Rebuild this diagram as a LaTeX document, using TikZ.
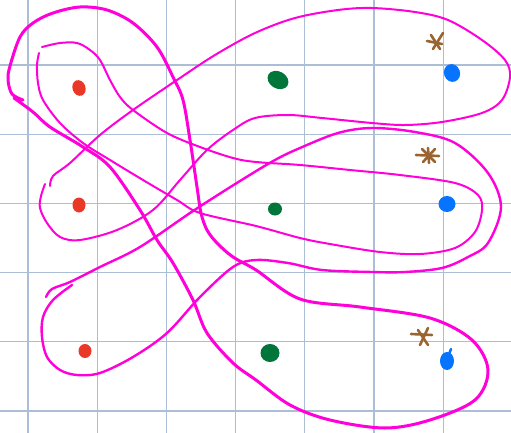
\documentclass[tikz,border=0pt]{standalone}
\begin{document}
\begin{tikzpicture}[x=1pt,y=-1pt,line cap=round,line join=round,
  gridline/.style={draw=gridc,line width=1.2pt},
  loopthick/.style={draw=mag,line width=3pt},
  loopmid/.style={draw=mag,line width=2.4pt},
  loopthin/.style={draw=mag,line width=2pt},
  reddot/.style={fill=redc},
  greendot/.style={fill=greenc},
  bluedot/.style={fill=bluec},
  starstroke/.style={draw=brownc,line width=2.6pt}]
\definecolor{gridc}{RGB}{172,190,214}
\definecolor{mag}{RGB}{255,0,218}
\definecolor{redc}{RGB}{234,56,40}
\definecolor{greenc}{RGB}{0,118,58}
\definecolor{bluec}{RGB}{6,116,255}
\definecolor{brownc}{RGB}{154,100,48}
\useasboundingbox (0,0) rectangle (511,433);
\fill[white] (0,0) rectangle (511,433);
% grid
\foreach \gx in {28,97.2,166.4,235.6,304.8,374,443.2}
  \draw[gridline] (\gx,0) -- (\gx,433);
\foreach \gy in {65,134.2,203.4,272.6,341.8,411}
  \draw[gridline] (0,\gy) -- (511,\gy);
% dots
\fill[reddot,rotate around={20:(79,88)}] (79,88) ellipse (6.5 and 8);
\fill[reddot] (79,205) ellipse (6.5 and 7.5);
\fill[reddot] (85,351) ellipse (6.5 and 7);
\fill[greendot,rotate around={-30:(278,80)}] (278,80) ellipse (11 and 8.5);
\fill[greendot] (275,209) ellipse (7 and 6.5);
\fill[greendot] (270,353) ellipse (9.5 and 9);
\fill[bluedot,rotate around={20:(452,73)}] (452,73) ellipse (8 and 9);
\fill[bluedot] (447,204) ellipse (8.5 and 8);
\fill[bluedot] (447,361) ellipse (7 and 9);
\draw[draw=bluec,line width=2.5pt] (449,354) -- (451,349);
% stars
\draw[starstroke] (427,41) -- (442,44);
\draw[starstroke] (443,33) -- (433,49);
\draw[starstroke] (431,35) -- (440,49);
\draw[starstroke] (416,155) -- (439,156);
\draw[starstroke] (428,148) -- (429,163);
\draw[starstroke] (422,149) -- (435,162);
\draw[starstroke] (435,149) -- (423,162);
\draw[starstroke] (411,334) -- (432,335);
\draw[starstroke] (428,328) -- (420,345);
\draw[starstroke] (418,330) -- (428,345);
% loop A (thick)
\draw[loopthick] plot[smooth,tension=0.55] coordinates {
 (23,100) (12,94) (8,80) (10,66) (20,37) (33,23) (53,13) (80,7) (107,10) (133,23)
 (157,47) (173,77) (183,100) (190,140) (197,187) (201,213) (207,230) (217,243)
 (233,257) (256,270) (300,299) (360,307) (430,318) (472,340) (488,370)
 (475,400) (430,420) (385,428) (330,420) (290,405) (256,380) (233,363)
 (207,333) (193,300) (173,263) (157,240) (140,210) (110,167) (83,147)
 (50,127) (33,112) (14,98)};
% loop B (thin)
\draw[loopthin] plot[smooth,tension=0.55] coordinates {
 (42,47) (60,43) (77,43) (90,50) (100,60) (110,80) (120,97) (133,110)
 (167,133) (200,147) (233,158) (256,162) (300,165) (350,170) (400,175)
 (455,183) (478,195) (482,210) (475,232) (455,248) (420,254) (380,252)
 (330,244) (300,238) (256,226) (200,213) (177,200) (143,180) (110,160)
 (83,143) (60,123) (43,100) (38,83) (37,65) (39,53)};
% loop C (thin)
\draw[loopthin] plot[smooth,tension=0.55] coordinates {
 (50,186) (53,176) (70,163) (100,135) (133,110) (177,80) (215,55) (255,33)
 (295,18) (338,10) (372,8) (415,12) (448,20) (482,40) (505,60) (510,77)
 (502,100) (482,113) (442,122) (405,125) (372,123) (322,118) (288,115)
 (255,118) (233,130) (207,150) (180,180) (153,210) (117,230) (80,240)
 (60,237) (47,223) (40,208) (41,196) (45,184)};
% loop D (medium)
\draw[loopmid] plot[smooth,tension=0.55] coordinates {
 (46,297) (52,289) (70,282) (100,267) (140,247) (193,211) (240,181)
 (275,160) (300,148) (338,133) (372,128) (415,132) (455,143) (488,173)
 (501,207) (488,243) (468,257) (442,268) (405,272) (372,272) (322,270)
 (288,263) (256,260) (233,267) (200,297) (167,333) (133,357) (100,373)
 (77,375) (60,370) (47,357) (42,337) (43,317) (53,300) (72,285)};
\end{tikzpicture}
\end{document}
